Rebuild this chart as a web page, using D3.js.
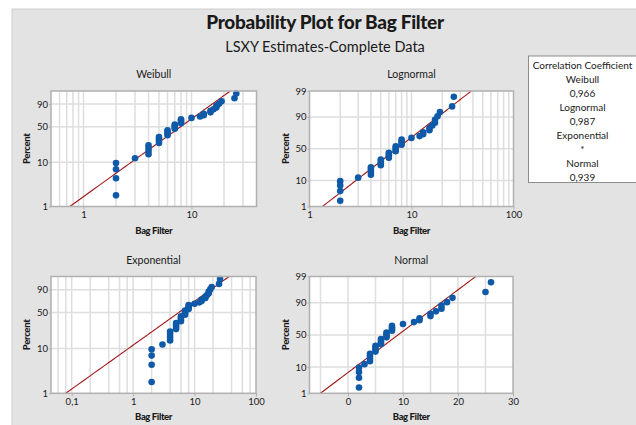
<!DOCTYPE html>
<html lang="en">
<head>
    <meta charset="UTF-8">
    <title>Probability Plot for Bag Filter</title>
    <script src="https://cdn.jsdelivr.net/npm/d3@7"></script>
    <style>
        body{ margin: 0; background: #ffffff; }
        text{ font-family: Lato, "Open Sans", sans-serif; fill: #1a1a1a; }
        .grid{ stroke: #dedede; stroke-width: 1.5; }
        .frame{ fill: none; stroke: #b0b0b0; stroke-width: 1.5; }
        .fit{ fill: none; stroke: #a31515; stroke-width: 1.1; }
        .dot{ fill: #0f5aa8; }
    </style>
</head>
<body>
<svg id="chart" width="636" height="425"></svg>

<script>
    // Bag Filter values (sorted) and their plotted percents (median ranks)
    let bagFilter = [2,2,2,2,3,4,4,4,4,5,5,5,5,6,6,6,6,7,7,7,7,8,8,8,8,
                     10,12,13,13,15,15,16,17,17,18,19,25,26];
    let percent = [1.8,4.4,7.0,9.6,12.2,14.8,17.4,20.1,22.7,25.3,27.9,30.5,33.1,
                   35.7,38.3,40.9,43.5,46.1,48.7,51.3,53.9,56.5,59.1,61.7,64.3,
                   66.9,69.5,72.1,74.7,77.3,79.9,82.6,85.2,87.8,90.4,93.0,95.6,98.2];

    // fitted parameters
    let weibullFit = [1.79, 9.75];      // shape, scale
    let lognormalFit = [1.972, 0.722];  // location, scale
    let exponentialFit = [7.95];        // scale
    let normalFit = [9.1, 6.07];        // mean, sd

    let distNames = ["Weibull", "Lognormal", "Exponential", "Normal"];
    let corrValues = ["0,966", "0,987", "*", "0,939"];

    let weibullXTicks = [1, 10];
    let lognormalXTicks = [1, 10, 100];
    let exponentialXTicks = [0.1, 1, 10, 100];
    let exponentialXLabels = ["0,1", "1", "10", "100"];
    let normalXTicks = [0, 10, 20, 30];
    let yTicksShort = [1, 10, 50, 90];
    let yTicksLong = [1, 10, 50, 90, 99];

    // inverse standard normal (Acklam)
    function qnorm(p){
        let a=[-39.69683028665376,220.9460984245205,-275.9285104469687,138.3577518672690,-30.66479806614716,2.506628277459239],
            b=[-54.47609879822406,161.5858368580409,-155.6989798598866,66.80131188771972,-13.28068155288572],
            c=[-0.007784894002430293,-0.3223964580411365,-2.400758277161838,-2.549732539343734,4.374664141464968,2.938163982698783],
            d=[0.007784695709041462,0.3224671290700398,2.445134137142996,3.754408661907416];
        let q, r;
        if (p < 0.02425){
            q = Math.sqrt(-2*Math.log(p));
            return (((((c[0]*q+c[1])*q+c[2])*q+c[3])*q+c[4])*q+c[5])/((((d[0]*q+d[1])*q+d[2])*q+d[3])*q+1);
        } else if (p > 1-0.02425){
            q = Math.sqrt(-2*Math.log(1-p));
            return -(((((c[0]*q+c[1])*q+c[2])*q+c[3])*q+c[4])*q+c[5])/((((d[0]*q+d[1])*q+d[2])*q+d[3])*q+1);
        }
        q = p-0.5; r = q*q;
        return (((((a[0]*r+a[1])*r+a[2])*r+a[3])*r+a[4])*r+a[5])*q/(((((b[0]*r+b[1])*r+b[2])*r+b[3])*r+b[4])*r+1);
    }
    function sev(p){ return Math.log(-Math.log(1-p)); }

    let svg = d3.select("#chart");

    // page background
    svg.append("rect").attr("x",12).attr("y",9).attr("width",640).attr("height",430)
        .attr("fill","#e3e3e3").attr("stroke","#cfcfcf");

    svg.append("text").attr("x",325).attr("y",29).attr("text-anchor","middle")
        .attr("font-size",19).attr("font-weight","900").style("letter-spacing","-0.3px")
        .text("Probability Plot for Bag Filter");
    svg.append("text").attr("x",325).attr("y",52).attr("text-anchor","middle")
        .attr("font-size",14.5)
        .text("LSXY Estimates-Complete Data");

    let panels = [
        {title:distNames[0], box:[51,256.5,91,206.5], xType:"log", xDomain:[0.5,40], grid:[1,2,3,4,5,6,7,8,9],
         xTicks:weibullXTicks, xLabels:weibullXTicks.map(String), yT:sev, yTicks:yTicksShort,
         inv:p=>weibullFit[1]*Math.pow(-Math.log(1-p),1/weibullFit[0])},
        {title:distNames[1], box:[309.5,513.5,91,206.5], xType:"log", xDomain:[1,100], grid:[1,2,3,4,5,6,7,8,9],
         xTicks:lognormalXTicks, xLabels:lognormalXTicks.map(String), yT:qnorm, yTicks:yTicksLong,
         inv:p=>Math.exp(lognormalFit[0]+lognormalFit[1]*qnorm(p))},
        {title:distNames[2], box:[51,256,276.5,393.3], xType:"log", xDomain:[0.046,100], grid:[1,2,4,6,8],
         xTicks:exponentialXTicks, xLabels:exponentialXLabels, yT:sev, yTicks:yTicksShort,
         inv:p=>-exponentialFit[0]*Math.log(1-p)},
        {title:distNames[3], box:[309.5,513,276.5,393.3], xType:"lin", xDomain:[-7,30], grid:null,
         xTicks:normalXTicks, xLabels:normalXTicks.map(String), yT:qnorm, yTicks:yTicksLong,
         inv:p=>normalFit[0]+normalFit[1]*qnorm(p)}
    ];

    panels.forEach(function(pn, k){
        let [L,R,T,B] = pn.box;
        let x = (pn.xType === "log" ? d3.scaleLog() : d3.scaleLinear()).domain(pn.xDomain).range([L,R]);
        let y = d3.scaleLinear().domain([pn.yT(0.01), pn.yT(0.99)]).range([B,T]);
        let g = svg.append("g");

        g.append("rect").attr("x",L).attr("y",T).attr("width",R-L).attr("height",B-T).attr("fill","#fff");

        // vertical grid
        let vg = [];
        if (pn.grid){
            for (let e = Math.floor(Math.log10(pn.xDomain[0])); e <= Math.ceil(Math.log10(pn.xDomain[1])); e++){
                pn.grid.forEach(m => {
                    let v = m*Math.pow(10,e);
                    if (v > pn.xDomain[0]*1.001 && v < pn.xDomain[1]*0.999) vg.push(v);
                });
            }
        } else {
            vg = d3.range(-5, 30, 5);
        }
        g.selectAll(".vg").data(vg).join("line").attr("class","grid")
            .attr("x1",d=>x(d)).attr("x2",d=>x(d)).attr("y1",T).attr("y2",B);
        // horizontal grid
        g.selectAll(".hg").data([10,50,90]).join("line").attr("class","grid")
            .attr("x1",L).attr("x2",R).attr("y1",d=>y(pn.yT(d/100))).attr("y2",d=>y(pn.yT(d/100)));

        // fitted line
        let clipId = "clip"+k;
        svg.append("clipPath").attr("id",clipId).append("rect")
            .attr("x",L).attr("y",T).attr("width",R-L).attr("height",B-T);
        let ps = d3.range(0.01, 0.9901, 0.0049);
        g.append("path").attr("class","fit").attr("clip-path","url(#"+clipId+")")
            .attr("d", d3.line().x(p=>x(pn.inv(p))).y(p=>y(pn.yT(p)))(ps));

        // points
        g.selectAll(".dot").data(bagFilter).join("circle").attr("class","dot")
            .attr("cx",d=>x(d)).attr("cy",(d,i)=>y(pn.yT(percent[i]/100))).attr("r",3.3);

        g.append("rect").attr("class","frame").attr("x",L).attr("y",T).attr("width",R-L).attr("height",B-T);

        // axes
        let xa = g.append("g").attr("transform","translate(0,"+B+")")
            .call(d3.axisBottom(x).tickValues(pn.xTicks).tickFormat((d,i)=>pn.xLabels[i]).tickSize(3).tickPadding(2));
        let ya = g.append("g").attr("transform","translate("+L+",0)")
            .call(d3.axisLeft(y).tickValues(pn.yTicks.map(v=>pn.yT(v/100)))
                .tickFormat((d,i)=>pn.yTicks[i]).tickSize(2).tickPadding(1));
        [xa, ya].forEach(a => {
            a.select(".domain").remove();
            a.selectAll("line").attr("stroke","#b0b0b0");
            a.selectAll("text").attr("font-size",9.5).attr("font-family","Lato, sans-serif").attr("fill","#1a1a1a");
        });

        g.append("text").attr("x",(L+R)/2).attr("y",T-13).attr("text-anchor","middle")
            .attr("font-size",10.5).text(pn.title);
        g.append("text").attr("x",(L+R)/2).attr("y",B+27).attr("text-anchor","middle")
            .attr("font-size",9.5).attr("font-weight","900").style("letter-spacing","-0.4px").text("Bag Filter");
        g.append("text").attr("transform","translate("+(L-21)+","+((T+B)/2)+") rotate(-90)")
            .attr("text-anchor","middle").attr("font-size",9.5).attr("font-weight","900")
            .style("letter-spacing","-0.3px").text("Percent");
    });

    // correlation box
    svg.append("rect").attr("x",528.5).attr("y",56).attr("width",120).attr("height",126.5)
        .attr("fill","#fff").attr("stroke","#8c8c8c");
    let legendLines = ["Correlation Coefficient"];
    distNames.forEach((n,i) => { legendLines.push(n); legendLines.push(corrValues[i]); });
    svg.selectAll(".leg").data(legendLines).join("text")
        .attr("x",582.5).attr("y",(d,i)=>68.5+i*14.05).attr("text-anchor","middle")
        .attr("font-size",10).text(d=>d);
</script>
</body>
</html>
